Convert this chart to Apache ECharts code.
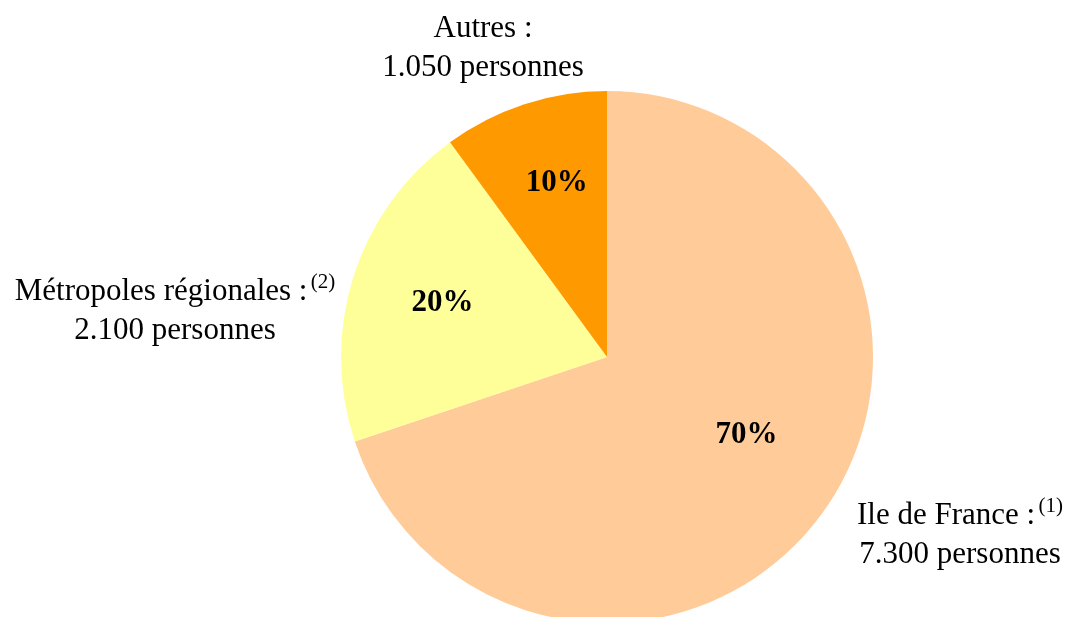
<!DOCTYPE html>
<html>
<head>
<meta charset="utf-8">
<script src="https://cdn.jsdelivr.net/npm/echarts@6/dist/echarts.min.js"></script>
<style>
  html, body { margin: 0; padding: 0; background: #fff; }
  #chart { width: 1067px; height: 617px; }
</style>
</head>
<body>
<div id="chart"></div>
<script>
  // données
  const names = ['Ile de France', 'Métropoles régionales', 'Autres']
  const persons = [7300, 2100, 1050]
  const percents = ['70%', '20%', '10%']
  const notes = ['(1)', '(2)', '']

  // styles
  const colors = ['#FFCC99', '#FFFF99', '#FF9900']
  const labelOffsets = [[29, -1], [-35, -13], [-8, -45]]
  const outsidePos = [[960, 535], [175, 311], [483, 48]]

  const font = 'Liberation Serif'

  // 7300 -> 7.300
  function fmt(n) {
    return String(n).replace(/\B(?=(\d{3})+(?!\d))/g, '.')
  }

  const chart = echarts.init(document.getElementById('chart'))

  const option = {
    backgroundColor: '#fff',
    animation: false,
    series: [
      {
        type: 'pie',
        center: [607, 357],
        radius: 266,
        startAngle: 90,
        clockwise: true,
        avoidLabelOverlap: false,
        itemStyle: { borderWidth: 0 },
        emphasis: { disabled: true },
        labelLine: { show: false },
        label: {
          show: true,
          position: 'inside',
          color: '#000',
          fontFamily: font,
          fontWeight: 'bold',
          fontSize: 31,
        },
        data: names.map((name, i) => ({
          name,
          value: persons[i],
          itemStyle: { color: colors[i] },
          label: { formatter: percents[i], offset: labelOffsets[i] },
        })),
      },
    ],
    graphic: names.map((name, i) => ({
      type: 'text',
      x: outsidePos[i][0],
      y: outsidePos[i][1],
      style: {
        text: '{t|' + name + ' :}' + (notes[i] ? ' {s|' + notes[i] + '}' : '') +
          '\n{t|' + fmt(persons[i]) + ' personnes}',
        align: 'center',
        verticalAlign: 'middle',
        fill: '#000',
        rich: {
          t: { fontFamily: font, fontSize: 31, lineHeight: 39, color: '#000' },
          s: { fontFamily: font, fontSize: 21, lineHeight: 39, verticalAlign: 'top', color: '#000' },
        },
      },
    })),
  }

  chart.setOption(option)
</script>
</body>
</html>
